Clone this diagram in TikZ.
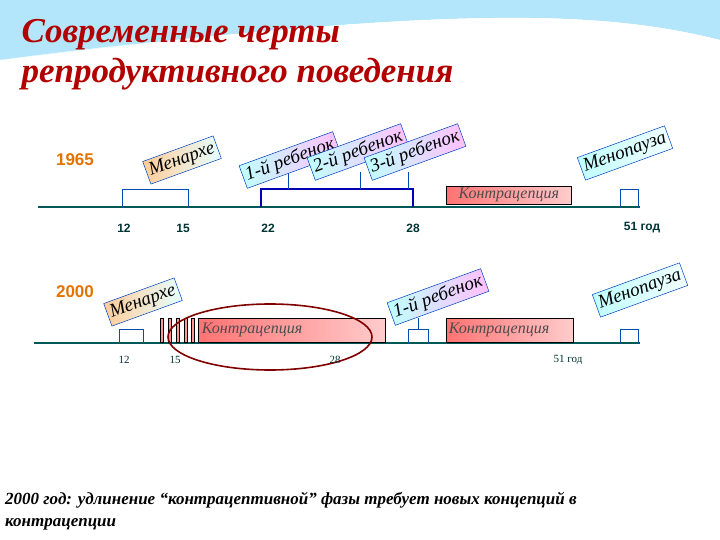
\documentclass[tikz,border=0pt]{standalone}
\usepackage{fontspec}
\setmainfont{Liberation Serif}
\newfontfamily\arialf{Liberation Sans}
\begin{document}
\begin{tikzpicture}[x=1pt,y=-1pt,
  tl/.style={draw=teal!70!black,line width=2pt},
  br/.style={draw=teal!60!blue,line width=0.6pt},
  lab/.style={draw=teal!50!blue,line width=0.5pt,font=\itshape\fontsize{19}{19}\selectfont,rotate=20,inner sep=3pt,minimum height=24pt},
  num/.style={font=\arialf\bfseries\fontsize{12}{12}\selectfont,text=teal!40!black},
  num2/.style={font=\fontsize{11}{11}\selectfont,text=teal!40!black},
  yr/.style={font=\arialf\bfseries\fontsize{17}{17}\selectfont,text=orange!90!black},
  contr/.style={draw=black,line width=0.6pt,left color=red!55,right color=red!20,font=\itshape\fontsize{16}{16}\selectfont,text=black!70,inner sep=2pt,anchor=north west}]
\useasboundingbox (0,0) rectangle (720,540);
\fill[cyan!30!white] (0,0) -- (720,0) -- (720,40) .. controls (600,10) and (450,5) .. (0,60) -- cycle;
\fill[white] (0,60) .. controls (300,20) and (500,20) .. (720,55) -- (720,40) .. controls (600,10) and (450,5) .. (0,60);
\node[anchor=west,font=\bfseries\itshape\fontsize{35}{40}\selectfont,text=red!70!black,align=left] (title) at (18,55) {Современные черты\\репродуктивного поведения};
% 1965
\node[yr] (y1) at (75,160) {1965};
\coordinate (a1) at (38,207); \coordinate (b1) at (640,207);
\draw[tl] (a1) -- (b1);
\draw[br] (122,207) -- (122,189) -- (188,189) -- (188,207);
\draw[draw=blue!70!black,line width=1.4pt] (261,207) -- (261,189) -- (413,189) -- (413,207);
\draw[br] (288,189) -- (288,172) (360,189) -- (360,172) (408,189) -- (408,172);
\draw[br] (620,207) -- (620,189) -- (638,189) -- (638,207);
\node[contr,minimum width=125pt,minimum height=18pt] (c1) at (446,186) {Контрацепция};
\node[lab,left color=orange!40,right color=cyan!10] (m1) at (182,160) {Менархе};
\node[lab,left color=cyan!25,right color=magenta!25] (ch1) at (290,160) {1-й ребенок};
\node[lab,left color=cyan!25,right color=magenta!25] (ch2) at (358,152) {2-й ребенок};
\node[lab,left color=cyan!25,right color=magenta!25] (ch3) at (415,152) {3-й ребенок};
\node[lab,left color=cyan!25,right color=cyan!5] (mp1) at (625,153) {Менопауза};
\node[num] (n12) at (124,228) {12};
\node[num] (n15) at (183,228) {15};
\node[num] (n22) at (268,228) {22};
\node[num] (n28) at (413,228) {28};
\node[num] (n51) at (642,228) {51 год};
% 2000
\node[yr] (y2) at (75,292) {2000};
\coordinate (a2) at (34,343); \coordinate (b2) at (640,343);
\draw[tl] (a2) -- (b2);
\draw[br] (119,343) -- (119,329) -- (143,329) -- (143,343);
\foreach \x in {160,168,176,184,191} \draw[fill=red!40,line width=0.5pt] (\x,318) rectangle (\x+3,342);
\node[contr,minimum width=187pt,minimum height=24pt,text width=180pt] (c2) at (198,318) {Контрацепция};
\draw[br] (408,343) -- (408,329) -- (428,329) -- (428,343) (418,329) -- (418,318);
\node[contr,minimum width=127pt,minimum height=24pt,text width=122pt] (c3) at (446,318) {Контрацепция};
\draw[br] (620,343) -- (620,329) -- (638,329) -- (638,343);
\node[lab,left color=orange!40,right color=cyan!10] (m2) at (143,302) {Менархе};
\node[lab,left color=cyan!25,right color=magenta!25] (ch21) at (438,297) {1-й ребенок};
\node[lab,left color=cyan!25,right color=cyan!5] (mp2) at (640,290) {Менопауза};
\draw[red!50!black,line width=1.6pt] (270,337) ellipse [x radius=102, y radius=33];
\node[num2] (k12) at (124,360) {12};
\node[num2] (k15) at (175,360) {15};
\node[num2] (k28) at (335,360) {28};
\node[num2] (k51) at (568,360) {51 год};
\node[anchor=north west,font=\bfseries\itshape\fontsize{17}{22}\selectfont,align=left,inner sep=0pt] (foot) at (5,492) {2000 год: удлинение “контрацептивной” фазы требует новых концепций в\\контрацепции};
\end{tikzpicture}
\end{document}
